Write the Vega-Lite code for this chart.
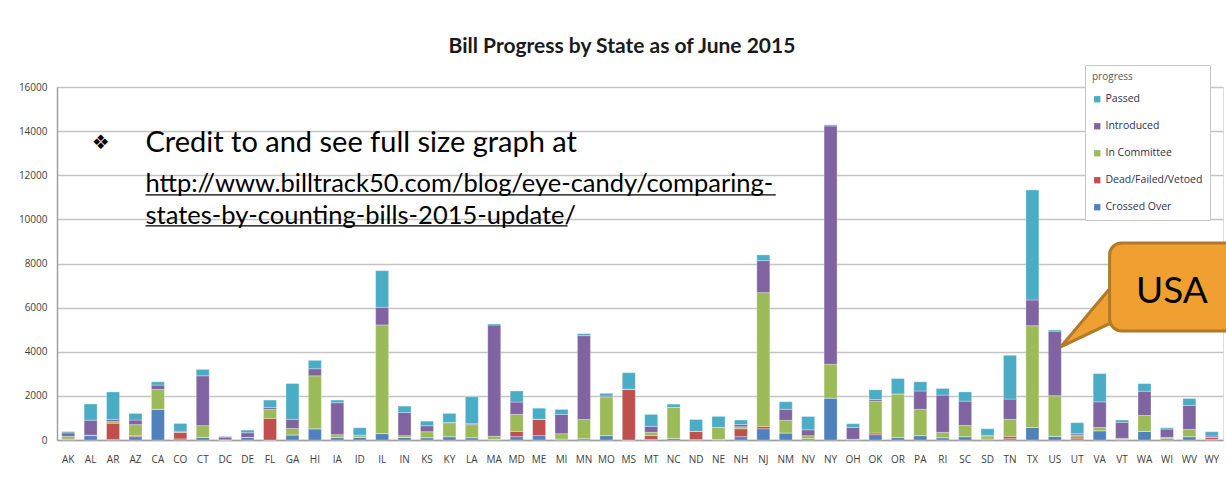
{
  "$schema": "https://vega.github.io/schema/vega-lite/v6.json",
  "width": 1166,
  "height": 353,
  "autosize": {"type": "none"},
  "padding": {"left": 57, "top": 87, "right": 3, "bottom": 41},
  "background": "white",
  "title": {"text": "Bill Progress by State as of June 2015", "font": "Lato", "fontSize": 21, "fontWeight": "bold", "color": "#1a1a1a", "offset": 8, "dx": -18},
  "datasets": {
    "bills": [
      {"state":"AK","Crossed Over":40,"Dead/Failed/Vetoed":0,"In Committee":130,"Introduced":150,"Passed":60},
      {"state":"AL","Crossed Over":200,"Dead/Failed/Vetoed":0,"In Committee":20,"Introduced":680,"Passed":730},
      {"state":"AR","Crossed Over":20,"Dead/Failed/Vetoed":740,"In Committee":75,"Introduced":90,"Passed":1250},
      {"state":"AZ","Crossed Over":150,"Dead/Failed/Vetoed":45,"In Committee":500,"Introduced":210,"Passed":300},
      {"state":"CA","Crossed Over":1390,"Dead/Failed/Vetoed":0,"In Committee":900,"Introduced":200,"Passed":150},
      {"state":"CO","Crossed Over":50,"Dead/Failed/Vetoed":300,"In Committee":10,"Introduced":40,"Passed":350},
      {"state":"CT","Crossed Over":120,"Dead/Failed/Vetoed":0,"In Committee":530,"Introduced":2260,"Passed":290},
      {"state":"DC","Crossed Over":10,"Dead/Failed/Vetoed":0,"In Committee":0,"Introduced":120,"Passed":30},
      {"state":"DE","Crossed Over":120,"Dead/Failed/Vetoed":0,"In Committee":0,"Introduced":210,"Passed":120},
      {"state":"FL","Crossed Over":0,"Dead/Failed/Vetoed":980,"In Committee":410,"Introduced":90,"Passed":330},
      {"state":"GA","Crossed Over":230,"Dead/Failed/Vetoed":0,"In Committee":290,"Introduced":420,"Passed":1620},
      {"state":"HI","Crossed Over":510,"Dead/Failed/Vetoed":0,"In Committee":2400,"Introduced":320,"Passed":380},
      {"state":"IA","Crossed Over":120,"Dead/Failed/Vetoed":0,"In Committee":120,"Introduced":1450,"Passed":120},
      {"state":"ID","Crossed Over":120,"Dead/Failed/Vetoed":0,"In Committee":75,"Introduced":30,"Passed":330},
      {"state":"IL","Crossed Over":290,"Dead/Failed/Vetoed":0,"In Committee":4925,"Introduced":800,"Passed":1660},
      {"state":"IN","Crossed Over":120,"Dead/Failed/Vetoed":0,"In Committee":75,"Introduced":1050,"Passed":290},
      {"state":"KS","Crossed Over":105,"Dead/Failed/Vetoed":0,"In Committee":270,"Introduced":270,"Passed":210},
      {"state":"KY","Crossed Over":150,"Dead/Failed/Vetoed":0,"In Committee":630,"Introduced":15,"Passed":410},
      {"state":"LA","Crossed Over":105,"Dead/Failed/Vetoed":0,"In Committee":590,"Introduced":45,"Passed":1220},
      {"state":"MA","Crossed Over":20,"Dead/Failed/Vetoed":0,"In Committee":150,"Introduced":5040,"Passed":50},
      {"state":"MD","Crossed Over":150,"Dead/Failed/Vetoed":240,"In Committee":770,"Introduced":560,"Passed":500},
      {"state":"ME","Crossed Over":200,"Dead/Failed/Vetoed":740,"In Committee":0,"Introduced":0,"Passed":500},
      {"state":"MI","Crossed Over":45,"Dead/Failed/Vetoed":0,"In Committee":240,"Introduced":870,"Passed":230},
      {"state":"MN","Crossed Over":60,"Dead/Failed/Vetoed":0,"In Committee":870,"Introduced":3800,"Passed":90},
      {"state":"MO","Crossed Over":200,"Dead/Failed/Vetoed":0,"In Committee":1750,"Introduced":45,"Passed":120},
      {"state":"MS","Crossed Over":0,"Dead/Failed/Vetoed":2300,"In Committee":0,"Introduced":0,"Passed":750},
      {"state":"MT","Crossed Over":20,"Dead/Failed/Vetoed":180,"In Committee":150,"Introduced":270,"Passed":540},
      {"state":"NC","Crossed Over":75,"Dead/Failed/Vetoed":0,"In Committee":1400,"Introduced":0,"Passed":150},
      {"state":"ND","Crossed Over":20,"Dead/Failed/Vetoed":370,"In Committee":0,"Introduced":0,"Passed":540},
      {"state":"NE","Crossed Over":20,"Dead/Failed/Vetoed":0,"In Committee":550,"Introduced":0,"Passed":500},
      {"state":"NH","Crossed Over":150,"Dead/Failed/Vetoed":360,"In Committee":90,"Introduced":105,"Passed":200},
      {"state":"NJ","Crossed Over":510,"Dead/Failed/Vetoed":105,"In Committee":6065,"Introduced":1450,"Passed":260},
      {"state":"NM","Crossed Over":320,"Dead/Failed/Vetoed":0,"In Committee":570,"Introduced":500,"Passed":345},
      {"state":"NV","Crossed Over":60,"Dead/Failed/Vetoed":0,"In Committee":135,"Introduced":270,"Passed":600},
      {"state":"NY","Crossed Over":1900,"Dead/Failed/Vetoed":0,"In Committee":1535,"Introduced":10800,"Passed":50},
      {"state":"OH","Crossed Over":30,"Dead/Failed/Vetoed":0,"In Committee":0,"Introduced":540,"Passed":170},
      {"state":"OK","Crossed Over":240,"Dead/Failed/Vetoed":75,"In Committee":1445,"Introduced":75,"Passed":440},
      {"state":"OR","Crossed Over":120,"Dead/Failed/Vetoed":0,"In Committee":1970,"Introduced":0,"Passed":695},
      {"state":"PA","Crossed Over":200,"Dead/Failed/Vetoed":0,"In Committee":1190,"Introduced":830,"Passed":420},
      {"state":"RI","Crossed Over":105,"Dead/Failed/Vetoed":0,"In Committee":240,"Introduced":1690,"Passed":300},
      {"state":"SC","Crossed Over":150,"Dead/Failed/Vetoed":0,"In Committee":510,"Introduced":1100,"Passed":420},
      {"state":"SD","Crossed Over":45,"Dead/Failed/Vetoed":0,"In Committee":135,"Introduced":30,"Passed":300},
      {"state":"TN","Crossed Over":60,"Dead/Failed/Vetoed":105,"In Committee":770,"Introduced":920,"Passed":1985},
      {"state":"TX","Crossed Over":570,"Dead/Failed/Vetoed":0,"In Committee":4610,"Introduced":1165,"Passed":4990},
      {"state":"US","Crossed Over":165,"Dead/Failed/Vetoed":0,"In Committee":1840,"Introduced":2925,"Passed":60},
      {"state":"UT","Crossed Over":60,"Dead/Failed/Vetoed":75,"In Committee":90,"Introduced":60,"Passed":500},
      {"state":"VA","Crossed Over":420,"Dead/Failed/Vetoed":0,"In Committee":150,"Introduced":1160,"Passed":1280},
      {"state":"VT","Crossed Over":30,"Dead/Failed/Vetoed":0,"In Committee":45,"Introduced":725,"Passed":105},
      {"state":"WA","Crossed Over":390,"Dead/Failed/Vetoed":0,"In Committee":720,"Introduced":1100,"Passed":345},
      {"state":"WI","Crossed Over":60,"Dead/Failed/Vetoed":0,"In Committee":60,"Introduced":375,"Passed":60},
      {"state":"WV","Crossed Over":150,"Dead/Failed/Vetoed":0,"In Committee":330,"Introduced":1085,"Passed":315},
      {"state":"WY","Crossed Over":30,"Dead/Failed/Vetoed":90,"In Committee":0,"Introduced":60,"Passed":195}
    ]
  },
  "layer": [
    {
      "data": {"name": "bills"},
      "transform": [{"fold": ["Crossed Over", "Dead/Failed/Vetoed", "In Committee", "Introduced", "Passed"], "as": ["progress", "count"]}],
      "mark": {"type": "bar", "stroke": "white", "strokeOpacity": 0.5, "strokeWidth": 0.6},
      "encoding": {
        "x": {"field": "state", "type": "nominal", "sort": null,
          "scale": {"paddingInner": 0.42, "paddingOuter": 0.21},
          "axis": {"title": null, "labelAngle": 0, "ticks": false, "labelPadding": 14, "labelFont": "Open Sans", "labelFontSize": 10, "labelColor": "#404040", "domainColor": "#a0a0a0", "domainWidth": 1.5}},
        "y": {"field": "count", "type": "quantitative", "stack": "zero",
          "scale": {"domain": [0, 16000], "nice": false},
          "axis": {"title": null, "values": [0,2000,4000,6000,8000,10000,12000,14000,16000], "format": "d", "ticks": false, "labelPadding": 10, "labelFont": "Open Sans", "labelFontSize": 10, "labelColor": "#404040", "domainColor": "#a0a0a0", "domainWidth": 1.5, "gridColor": "#c4c4c4", "gridWidth": 1.5}},
        "color": {"field": "progress", "type": "nominal",
          "scale": {"domain": ["Passed", "Introduced", "In Committee", "Dead/Failed/Vetoed", "Crossed Over"],
                    "range": ["#4BACC6", "#8064A2", "#9BBB59", "#C0504D", "#4F81BD"]},
          "legend": {"title": "progress", "orient": "none", "legendX": 1028, "legendY": -22,
            "fillColor": "white", "strokeColor": "#c8c8c8", "padding": 7,
            "titleFont": "Open Sans", "titleFontSize": 10, "titleFontWeight": "normal", "titleColor": "#595959", "titlePadding": 12,
            "labelFont": "Open Sans", "labelFontSize": 10.5, "labelColor": "#303050",
            "symbolType": "square", "symbolSize": 40, "symbolStrokeWidth": 0, "rowPadding": 16, "labelOffset": 3}},
        "order": {"field": "progress", "sort": "ascending"}
      }
    },
    {
      "data": {"values": [{"state": "AL", "v": 13469, "t": "❖"}]},
      "mark": {"type": "text", "align": "center", "baseline": "middle", "fontSize": 20, "dx": 10, "color": "black", "font": "DejaVu Sans"},
      "encoding": {"x": {"field": "state", "type": "nominal"}, "y": {"field": "v", "type": "quantitative"}, "text": {"field": "t"}}
    },
    {
      "data": {"values": [{"state": "AZ", "v": 13469, "t": "Credit to and see full size graph at"}]},
      "mark": {"type": "text", "align": "left", "baseline": "middle", "fontSize": 29, "dx": 10, "color": "black", "font": "Lato"},
      "encoding": {"x": {"field": "state", "type": "nominal"}, "y": {"field": "v", "type": "quantitative"}, "text": {"field": "t"}}
    },
    {
      "data": {"values": [
        {"state": "AZ", "v": 11610, "t": "http://www.billtrack50.com/blog/eye-candy/comparing-"},
        {"state": "AZ", "v": 10160, "t": "states-by-counting-bills-2015-update/"}
      ]},
      "mark": {"type": "text", "align": "left", "baseline": "middle", "fontSize": 25.5, "dx": 10, "color": "black", "font": "Lato"},
      "encoding": {"x": {"field": "state", "type": "nominal"}, "y": {"field": "v", "type": "quantitative"}, "text": {"field": "t"}}
    },
    {
      "data": {"values": [{"a": "AZ", "b": "NM", "v": 11110}]},
      "mark": {"type": "rule", "color": "black", "strokeWidth": 1.3, "xOffset": 10, "x2Offset": -10},
      "encoding": {"x": {"field": "a", "type": "nominal"}, "x2": {"field": "b"}, "y": {"field": "v", "type": "quantitative"}}
    },
    {
      "data": {"values": [{"a": "AZ", "b": "MI", "v": 9705}]},
      "mark": {"type": "rule", "color": "black", "strokeWidth": 1.3, "xOffset": 10, "x2Offset": 6},
      "encoding": {"x": {"field": "a", "type": "nominal"}, "x2": {"field": "b"}, "y": {"field": "v", "type": "quantitative"}}
    },
    {
      "data": {"values": [{"state": "US", "lo": 4218, "hi": 4218}, {"state": "VT", "lo": 5669, "hi": 7846}]},
      "mark": {"type": "area", "color": "#F0A030", "stroke": "#B07A2A", "strokeWidth": 3, "fillOpacity": 1, "line": false},
      "encoding": {"x": {"field": "state", "type": "nominal", "bandPosition": 0.95}, "y": {"field": "lo", "type": "quantitative"}, "y2": {"field": "hi"}}
    },
    {
      "data": {"values": [{"a": "VT", "b": "WY", "lo": 4943, "hi": 8934}]},
      "mark": {"type": "rect", "color": "#F0A030", "stroke": "#B07A2A", "strokeWidth": 3, "cornerRadius": 12, "xOffset": -6, "x2Offset": 20},
      "encoding": {"x": {"field": "a", "type": "nominal", "bandPosition": 0}, "x2": {"field": "b", "bandPosition": 1}, "y": {"field": "lo", "type": "quantitative"}, "y2": {"field": "hi"}}
    },
    {
      "data": {"values": [{"state": "WI", "v": 6712, "t": "USA"}]},
      "mark": {"type": "text", "align": "center", "baseline": "middle", "fontSize": 37, "dx": 5, "color": "black", "font": "Lato"},
      "encoding": {"x": {"field": "state", "type": "nominal"}, "y": {"field": "v", "type": "quantitative"}, "text": {"field": "t"}}
    }
  ]
}
